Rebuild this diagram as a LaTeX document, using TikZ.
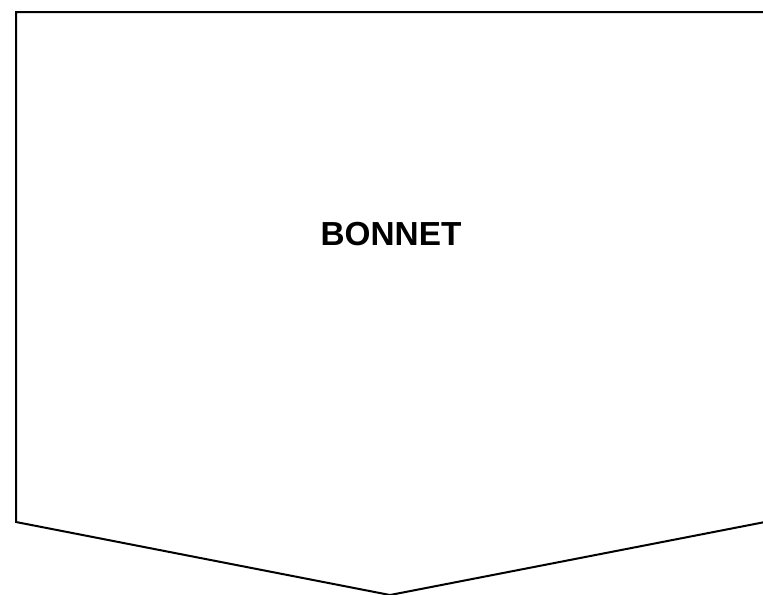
\documentclass[tikz,border=0pt]{standalone}
\usepackage{fontspec}
\setmainfont{Liberation Sans}
\definecolor{cLine}{HTML}{000000}
\usetikzlibrary{positioning}
\tikzset{
  node-label/.style={font=\bfseries\fontsize{25}{30}\selectfont,text=cLine},
  shape-outline/.style={draw=cLine,line width=1.5pt,line join=miter},
}

\begin{document}
\begin{tikzpicture}[x=0.75pt,y=-0.75pt]
  \useasboundingbox (0,0) rectangle (763,594);
  \clip (0,0) rectangle (763,594);
  % corner points of the bonnet outline
  \coordinate (tl) at (16,12);
  \coordinate (tr) at (765,12);
  \coordinate (br) at (765,522);
  \coordinate (tip) at (390,595);
  \coordinate (bl) at (16,522);
  \draw[shape-outline] (tr) -- (tl) -- (bl) -- (tip) -- (br) -- cycle;
  \node[node-label] (bonnet) at (391,234) {BONNET};
\end{tikzpicture}
\end{document}
